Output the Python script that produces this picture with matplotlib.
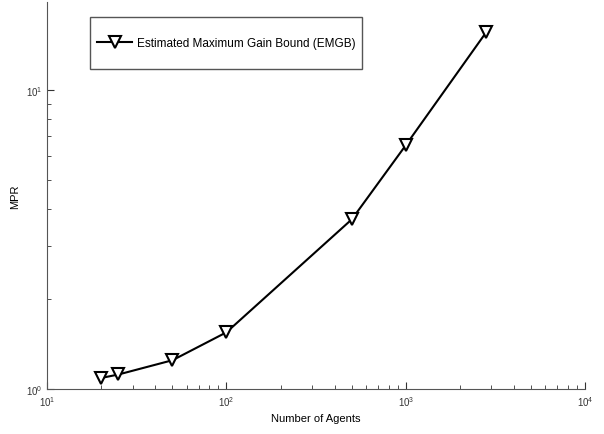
import matplotlib
matplotlib.use('Agg')
import matplotlib.pyplot as plt
from matplotlib.patches import Rectangle

agents = [20, 25, 50, 100, 500, 1000, 2800]
mpr = [1.09, 1.12, 1.25, 1.55, 3.7, 6.55, 15.6]
label = 'Estimated Maximum Gain Bound (EMGB)'

plt.rcParams['font.family'] = ['Liberation Sans', 'DejaVu Sans']

fig = plt.figure(figsize=(6.04, 4.35), dpi=100)
ax = fig.add_axes([0.078, 0.103, 0.891, 0.890])

ax.plot(agents, mpr, color='black', linewidth=1.5, marker='v', markersize=8.5,
        markerfacecolor='white', markeredgecolor='black', markeredgewidth=1.5,
        label=label)

ax.set_xscale('log')
ax.set_yscale('log')
ax.set_xlim(10, 10000)
ax.set_ylim(1, 19.7)

for side in ['top', 'right']:
    ax.spines[side].set_visible(False)
for side in ['left', 'bottom']:
    ax.spines[side].set_color('#555555')

ax.tick_params(which='both', direction='in', labelsize=7, colors='#333333')
ax.tick_params(which='major', length=5)
ax.tick_params(which='minor', length=3)
ax.yaxis.set_minor_formatter(matplotlib.ticker.NullFormatter())

ax.set_xlabel('Number of Agents', fontsize=8)
ax.set_ylabel('MPR', fontsize=8)

# legend box drawn by hand so it can be taller than the text
box = Rectangle((0.080, 0.827), 0.505, 0.134, transform=ax.transAxes,
                facecolor='white', edgecolor='#555555', linewidth=1.0, zorder=4)
ax.add_patch(box)
leg = ax.legend(loc='center', bbox_to_anchor=(0.3325, 0.894), fontsize=8.5,
                frameon=False, handlelength=3.0, handletextpad=0.35,
                borderpad=0, borderaxespad=0)
leg.set_zorder(5)

fig.savefig('out.png', dpi=100)
